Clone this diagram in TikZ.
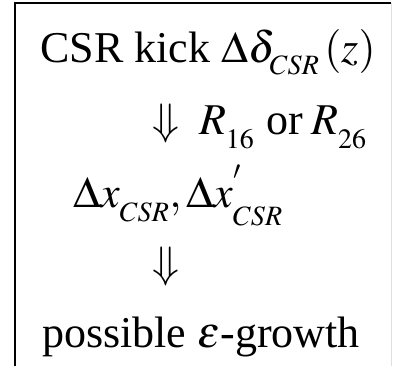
\documentclass[tikz,border=0pt]{standalone}
\usepackage{mathptmx}
\usepackage{fontspec}
\setmainfont{Liberation Serif}
\usepackage{tikz}
\tikzset{
  txt/.style={anchor=base west, inner sep=0pt, font=\fontsize{44}{50}\selectfont},
  frm/.style={line width=1.6pt, black},
  edg/.style={line width=0.8pt, gray!25},
}
% small subscripts set low, as in the slide
\newcommand{\lsub}[2][6pt]{_{\raisebox{-#1}{\fontsize{28}{32}\selectfont$#2$}}}

\begin{document}
\begin{tikzpicture}[x=1pt,y=-1pt]
  \useasboundingbox (0,0) rectangle (393,366);
  % frame (cut off at the bottom)
  \draw[edg] (391,3) -- (391,366);
  \draw[frm] (15,366) -- (15,3) -- (391,3);

  % steps
  \node[txt] (kick) at (40,63) {CSR kick $\Delta\delta\lsub[5pt]{CSR}\mkern2mu(z)$};
  \node[txt] (rmat) at (152,135) {$\Downarrow$\hspace{20pt}$R\lsub[7pt]{16}$\hspace{12pt}or\hspace{8pt}$R\lsub[7pt]{26}$};
  \node[txt] (offs) at (73,207) {$\Delta x\lsub[8pt]{CSR},\Delta x^{'}\lsub[8pt]{CSR}$};
  \node[txt] (arrw) at (152,277) {$\Downarrow$};
  \node[txt] (grow) at (42,347) {possible $\varepsilon$-growth};
\end{tikzpicture}
\end{document}
